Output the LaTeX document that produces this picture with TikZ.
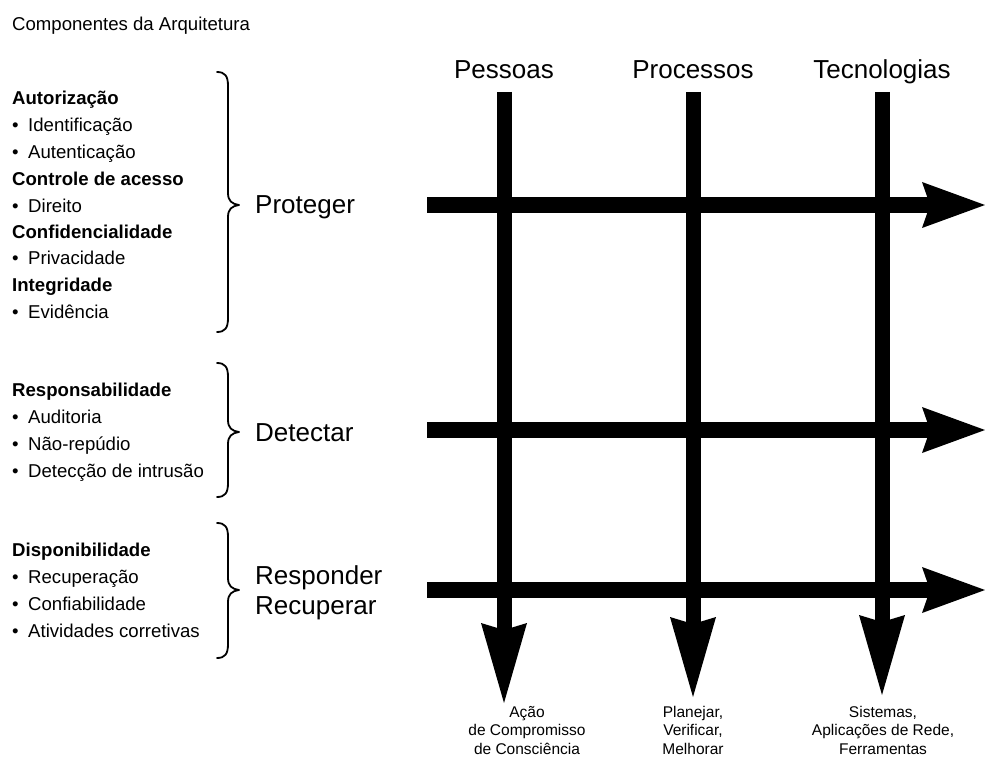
\documentclass[tikz,border=0pt]{standalone}
\usepackage{fontspec}
\setmainfont{Liberation Sans}
\usetikzlibrary{arrows.meta}

% bullet plus text for list entries
\newcommand\bulletitem[1]{\makebox[16pt][l]{•}#1}

\begin{document}
\begin{tikzpicture}[x=1pt,y=-1pt,
  txt/.style={anchor=base west, inner sep=0pt, font=\fontsize{18.6}{22}\selectfont},
  head/.style={txt, font=\fontsize{18.6}{22}\selectfont\bfseries},
  phase/.style={anchor=base west, inner sep=0pt, font=\fontsize{26}{30}\selectfont},
  colname/.style={anchor=base, inner sep=0pt, font=\fontsize{26}{30}\selectfont},
  result/.style={anchor=north, inner sep=0pt, align=center, font=\fontsize{15.5}{18.5}\selectfont},
  brace/.style={line width=1.8pt, line cap=round, line join=round},
  harrow/.style={line width=16pt, -{Stealth[length=63pt, width=46pt, inset=8pt, line width=0pt]}},
  varrow/.style={line width=15pt, -{Stealth[length=80pt, width=46pt, inset=7pt, line width=0pt]}},
]
\useasboundingbox (0,0) rectangle (985,762);

% title
\node[txt] (title) at (12,30.5) {Componentes da Arquitetura};

% protect block
\node[head] (aut)  at (12,104.5) {Autorização};
\node[txt]  (idf)  at (12,131.5) {\bulletitem{Identificação}};
\node[txt]  (aute) at (12,158.5) {\bulletitem{Autenticação}};
\node[head] (ctl)  at (12,185.5) {Controle de acesso};
\node[txt]  (dir)  at (12,212.5) {\bulletitem{Direito}};
\node[head] (conf) at (12,238.5) {Confidencialidade};
\node[txt]  (priv) at (12,264.5) {\bulletitem{Privacidade}};
\node[head] (intg) at (12,291.5) {Integridade};
\node[txt]  (evid) at (12,318.5) {\bulletitem{Evidência}};

% detect block
\node[head] (resp) at (12,396.5) {Responsabilidade};
\node[txt]  (aud)  at (12,423.5) {\bulletitem{Auditoria}};
\node[txt]  (nrep) at (12,450.5) {\bulletitem{Não-repúdio}};
\node[txt]  (intr) at (12,477.5) {\bulletitem{Detecção de intrusão}};

% respond block
\node[head] (disp) at (12,556.5) {Disponibilidade};
\node[txt]  (recu) at (12,583.5) {\bulletitem{Recuperação}};
\node[txt]  (conb) at (12,610.5) {\bulletitem{Confiabilidade}};
\node[txt]  (ativ) at (12,637.5) {\bulletitem{Atividades corretivas}};

% curly braces: top / tip / bottom
\foreach \t/\m/\b in {72/205/332, 363/432/497, 523/590/658}{
  \draw[brace] (217,\t) .. controls (225,\t) and (228,{\t+4}) .. (228,{\t+14})
    -- (228,{\m-12}) .. controls (228,{\m-4}) and (232,{\m-1}) .. (239,\m)
    .. controls (232,{\m+1}) and (228,{\m+4}) .. (228,{\m+12})
    -- (228,{\b-14}) .. controls (228,{\b-4}) and (225,\b) .. (217,\b);
}

% phase names
\node[phase] (prot) at (255,213.5) {Proteger};
\node[phase] (det)  at (255,441.5) {Detectar};
\node[phase] (resp1) at (255,584.5) {Responder};
\node[phase] (resp2) at (255,614.5) {Recuperar};

% column names
\node[colname] (pes) at (504,79) {Pessoas};
\node[colname] (pro) at (693,79) {Processos};
\node[colname] (tec) at (882,79) {Tecnologias};

% shaft ends
\coordinate (pesT) at (504,92);  \coordinate (pesB) at (504,703);
\coordinate (proT) at (693,92);  \coordinate (proB) at (693,697);
\coordinate (tecT) at (882,92);  \coordinate (tecB) at (882,695);
\coordinate (h1L) at (427,205);  \coordinate (h1R) at (985,205);
\coordinate (h2L) at (427,430);  \coordinate (h2R) at (985,430);
\coordinate (h3L) at (427,590);  \coordinate (h3R) at (985,590);

% horizontal arrows
\draw[harrow] (h1L) -- (h1R);
\draw[harrow] (h2L) -- (h2R);
\draw[harrow] (h3L) -- (h3R);

% vertical arrows
\draw[varrow] (pesT) -- (pesB);
\draw[varrow] (proT) -- (proB);
\draw[varrow] (tecT) -- (tecB);

% results under the columns
\node[result] (r1) at (527,706) {Ação\\de Compromisso\\de Consciência};
\node[result] (r2) at (693,706) {Planejar,\\Verificar,\\Melhorar};
\node[result] (r3) at (883,706) {Sistemas,\\Aplicações de Rede,\\Ferramentas};
\end{tikzpicture}
\end{document}
